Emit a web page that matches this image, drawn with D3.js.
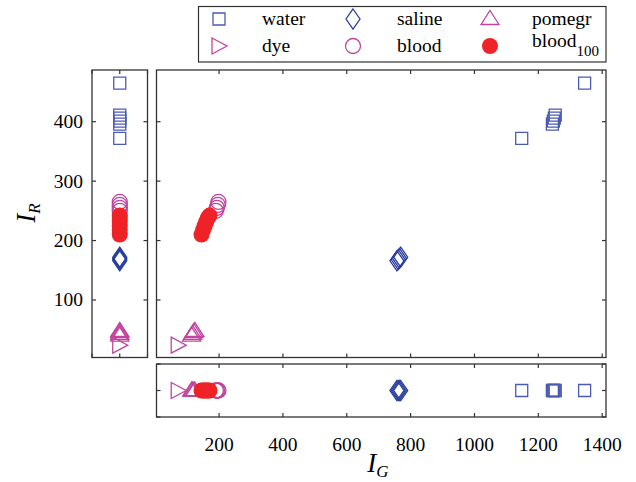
<!DOCTYPE html>
<html>
<head>
<meta charset="utf-8">
<script src="https://cdn.jsdelivr.net/npm/d3@7"></script>
<style>
  body { margin: 0; background: #fff; }
  svg text { font-family: "Liberation Serif", "Times New Roman", "DejaVu Serif", serif; }
</style>
</head>
<body>
<div class="chart"></div>
<script>
const width = 636
const height = 482

// data: [I_G, I_R]
const water    = [[1345, 465], [1148, 372], [1244, 396], [1247, 401], [1250, 406], [1253, 411]]
const saline   = [[757, 166], [761, 168], [765, 170], [769, 172]]
const pomegr   = [[114, 40], [117, 43], [121, 46], [124, 48]]
const dye      = [[72, 24]]
const blood    = [[190, 250], [193, 255], [196, 260], [198, 265]]
const blood100 = [[145, 210], [150, 218], [155, 225], [160, 232], [165, 238], [170, 242]]

const xTicks = [200, 400, 600, 800, 1000, 1200, 1400]
const yTicks = [100, 200, 300, 400]

const blue = "#4a5bb3", darkBlue = "#2b3f9e", magenta = "#c2449f", red = "#ee2227"

const series = [
  { name: "water",  data: water,    shape: "square",  color: blue },
  { name: "saline", data: saline,   shape: "diamond", color: darkBlue },
  { name: "pomegr", data: pomegr,   shape: "tri",     color: magenta },
  { name: "dye",    data: dye,      shape: "triR",    color: magenta },
  { name: "blood",  data: blood,    shape: "circle",  color: magenta },
  { name: "blood",  sub: "100", data: blood100, shape: "dot", color: red }
]

// marker shapes, centred on 0,0
function shapePath(s) {
  switch (s) {
    case "square":  return "M-6,-6H6V6H-6Z"
    case "diamond": return "M0,-10L7,0L0,10L-7,0Z"
    case "tri":     return "M0,-8.5L9,5.5H-9Z"
    case "triR":    return "M-7,-8L8,0L-7,8Z"
    case "circle":  return d3.arc()({innerRadius: 0, outerRadius: 7.5, startAngle: 0, endAngle: 2 * Math.PI})
    case "dot":     return d3.arc()({innerRadius: 0, outerRadius: 8, startAngle: 0, endAngle: 2 * Math.PI})
  }
}

const svg = d3.select(".chart").append("svg")
    .attr("width", width)
    .attr("height", height)
    .attr("font-family", "Liberation Serif, Times New Roman, serif")

// panel boxes
const main = { x0: 156.5, x1: 606, y0: 70, y1: 357.5 }
const left = { x0: 92, x1: 147.5 }
const bot  = { y0: 364, y1: 417 }

const x = d3.scaleLinear().domain([4, 1412]).range([main.x0, main.x1])
const y = d3.scaleLinear().domain([3.2, 487]).range([main.y1, main.y0])
const xl = d3.scaleLinear().domain([-1, 1]).range([left.x0, left.x1])
const yb = d3.scaleLinear().domain([-1, 1]).range([bot.y1, bot.y0])

function drawMarks(g, fx, fy) {
  series.forEach(s => {
    g.selectAll(null)
      .data(s.data)
      .join("path")
        .attr("d", shapePath(s.shape))
        .attr("transform", d => `translate(${fx(d)},${fy(d)})`)
        .attr("fill", s.shape === "dot" ? s.color : "none")
        .attr("stroke", s.shape === "dot" ? "none" : s.color)
        .attr("stroke-width", 1.3)
  })
}

// box with inward ticks on all four sides
function drawBox(sx, sy, xt, yt) {
  const g = svg.append("g")
  const [a, b] = sx.range(), [c, d] = sy.range()
  g.append("rect")
    .attr("x", a).attr("y", d).attr("width", b - a).attr("height", c - d)
    .attr("fill", "none").attr("stroke", "#333").attr("stroke-width", 1.3)
  const tl = 4
  xt.forEach(t => {
    g.append("line").attr("x1", sx(t)).attr("x2", sx(t)).attr("y1", c).attr("y2", c - tl)
    g.append("line").attr("x1", sx(t)).attr("x2", sx(t)).attr("y1", d).attr("y2", d + tl)
  })
  yt.forEach(t => {
    g.append("line").attr("y1", sy(t)).attr("y2", sy(t)).attr("x1", a).attr("x2", a + tl)
    g.append("line").attr("y1", sy(t)).attr("y2", sy(t)).attr("x1", b).attr("x2", b - tl)
  })
  g.selectAll("line").attr("stroke", "#333").attr("stroke-width", 1.2)
}

// main panel
drawMarks(svg.append("g"), d => x(d[0]), d => y(d[1]))
drawBox(x, y, xTicks, yTicks)

// left panel (I_R only)
drawMarks(svg.append("g"), d => xl(0), d => y(d[1]))
drawBox(xl, y, [-1, 0, 1], yTicks)

// bottom panel (I_G only)
drawMarks(svg.append("g"), d => x(d[0]), d => yb(0))
drawBox(x, yb, xTicks, [-1, 0, 1])

// tick labels
svg.append("g").selectAll("text")
  .data(yTicks)
  .join("text")
    .attr("x", 83)
    .attr("y", d => y(d) + 6.5)
    .attr("text-anchor", "end")
    .attr("font-size", 19.5)
    .text(d => d)

svg.append("g").selectAll("text")
  .data(xTicks)
  .join("text")
    .attr("x", d => x(d))
    .attr("y", 450.5)
    .attr("text-anchor", "middle")
    .attr("font-size", 19.5)
    .text(d => d)

// axis titles
const xt = svg.append("text")
    .attr("x", 378).attr("y", 472)
    .attr("text-anchor", "middle")
    .attr("font-size", 27)
    .attr("font-style", "italic")
xt.append("tspan").text("I")
xt.append("tspan").attr("font-size", 17).attr("dy", 5).text("G")

const yt = svg.append("text")
    .attr("transform", "translate(35,213) rotate(-90)")
    .attr("text-anchor", "middle")
    .attr("font-size", 27)
    .attr("font-style", "italic")
yt.append("tspan").text("I")
yt.append("tspan").attr("font-size", 17).attr("dy", 5).text("R")

// legend
const lg = svg.append("g")
lg.append("rect")
    .attr("x", 198.5).attr("y", 6.5).attr("width", 407.5).attr("height", 55.5)
    .attr("fill", "#fff").attr("stroke", "#333").attr("stroke-width", 1.2)

const colX = [219, 353, 490]
const textX = [262, 397, 532]
const rowY = [19, 46]
series.forEach((s, i) => {
  const col = i % 3, row = Math.floor(i / 3)
  lg.append("path")
    .attr("d", shapePath(s.shape))
    .attr("transform", `translate(${colX[col]},${rowY[row]})`)
    .attr("fill", s.shape === "dot" ? s.color : "none")
    .attr("stroke", s.shape === "dot" ? "none" : s.color)
    .attr("stroke-width", 1.3)
  const t = lg.append("text")
    .attr("x", textX[col])
    .attr("y", rowY[row] + (s.sub ? 1 : 6))
    .attr("font-size", 19.5)
    .text(s.name)
  if (s.sub) t.append("tspan").attr("font-size", 15).attr("dy", 9).text(s.sub)
})
</script>
</body>
</html>
